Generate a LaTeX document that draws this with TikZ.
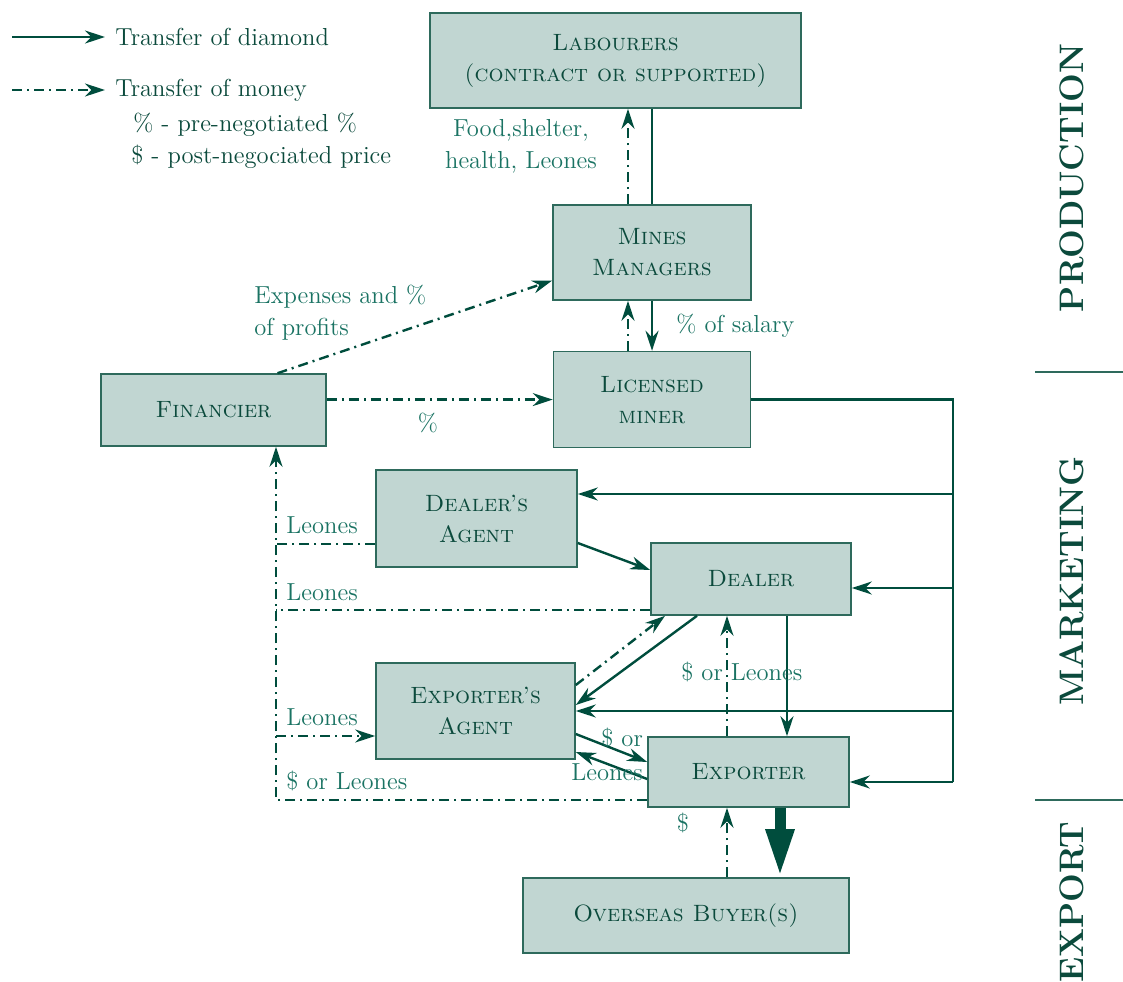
\documentclass[tikz,border=0pt]{standalone}
\usepackage{fontspec}
\usepackage{tikz}
\usetikzlibrary{arrows.meta, positioning}
\definecolor{dgreen}{HTML}{004D3D}
\definecolor{boxfill}{HTML}{C1D6D2}
\definecolor{boxline}{HTML}{2E6A5C}
\definecolor{lblgreen}{HTML}{1A7363}
\definecolor{txtgreen}{HTML}{0B4A3C}

\begin{document}
\begin{tikzpicture}[x=0.5pt, y=-0.5pt,
	actor/.style={draw=boxline, line width=0.8pt, fill=boxfill, text=txtgreen, align=center,
		inner sep=0pt, font=\fontsize{11.8}{15.5}\selectfont\scshape},
	gem/.style={draw=dgreen, line width=1.2pt, -{Stealth[length=10pt,width=6.5pt]}},
	money/.style={gem, dash pattern=on 5pt off 2.5pt on 1pt off 2.5pt},
	lbl/.style={text=lblgreen, font=\fontsize{12.3}{16}\selectfont, align=left, inner sep=0pt},
	legend/.style={lbl, text=txtgreen, anchor=west},
	side/.style={text=txtgreen, font=\fontsize{17}{20}\selectfont\bfseries, rotate=90, inner sep=0pt}]
	\useasboundingbox (0,0) rectangle (1123,981);

	% actors
	\node[actor, minimum width=185.5pt, minimum height=47.5pt] (lab) at (615.5,60.5) {Labourers\\(contract or supported)};
	\node[actor, minimum width=99pt, minimum height=47.5pt] (mines) at (652,252.5) {Mines\\Managers};
	\node[actor, minimum width=98.5pt, minimum height=48pt, below=25pt of mines] (lic) {Licensed\\miner};
	\node[actor, minimum width=112.5pt, minimum height=36pt] (fin) at (213.5,410) {Financier};
	\node[actor, minimum width=100.5pt, minimum height=48.5pt] (dagent) at (476.5,518.5) {Dealer’s\\Agent};
	\node[actor, minimum width=100pt, minimum height=36pt] (dealer) at (751,579) {Dealer};
	\node[actor, minimum width=99.5pt, minimum height=48pt] (eagent) at (475.5,711) {Exporter’s\\Agent};
	\node[actor, minimum width=100.5pt, minimum height=35pt] (exp) at (748.5,772) {Exporter};
	\node[actor, minimum width=163pt, minimum height=37.5pt] (buyer) at (686,915.5) {Overseas Buyer(s)};

	% production
	\coordinate (mu) at ([xshift=-12pt]mines.north);
	\coordinate (lu) at ([xshift=-12pt]lic.north);
	\draw[gem, -] (mines.north) -- (mines.north |- lab.south);
	\draw[money] (mu) -- (mu |- lab.south);
	\node[lbl, align=center] (food) at (521,146) {Food,shelter,\\health, Leones};
	\draw[gem] (mines.south) -- (mines.south |- lic.north);
	\draw[money] (lu) -- (lu |- mines.south);
	\node[lbl, anchor=west] (sal) at (676,326) {\% of salary};
	\draw[money] ([xshift=32pt]fin.north) -- ([yshift=-14pt]mines.west);
	\node[lbl, anchor=west] (exps) at (254,313) {Expenses and \%\\of profits};
	\draw[money] (fin.east |- lic.west) -- (lic.west);
	\node[lbl] (pct) at (428,423) {\%};

	% marketing, diamonds from the licensed miner
	\coordinate (rb) at (953,782);
	\draw[gem, -] (lic.east) -- (lic.east -| rb) -- (rb);
	\draw[gem] (rb |- 0,494) -- (dagent.east |- 0,494);
	\draw[gem] (rb |- 0,588) -- (dealer.east |- 0,588);
	\draw[gem] (rb |- eagent.east) -- (eagent.east);
	\draw[gem] (rb) -- (exp.east |- rb);

	% money back to the financier
	\coordinate (lb) at (276,800);
	\draw[money] (exp.west |- lb) -- (lb) -- (lb |- fin.south);
	\draw[money, -] (dagent.west |- 0,544) -- (lb |- 0,544);
	\draw[money, -] (dealer.west |- 0,610) -- (lb |- 0,610);
	\draw[money] (lb |- 0,736) -- (eagent.west |- 0,736);
	\node[lbl, anchor=west] (l1) at (286,525) {Leones};
	\node[lbl, anchor=west] (l2) at (286,592) {Leones};
	\node[lbl, anchor=west] (l3) at (286,717) {Leones};
	\node[lbl, anchor=west] (l4) at (286,781) {\$ or Leones};

	% between dealers and exporters
	\draw[gem] (dagent.east |- 0,543) -- (dealer.west |- 0,570);
	\draw[gem] (dealer.south -| 697,0) -- (eagent.east |- 0,705);
	\draw[money] (eagent.east |- 0,685) -- (dealer.south -| 665,0);
	\draw[gem] (dealer.south -| 787,0) -- (exp.north -| 787,0);
	\draw[money] (exp.north -| 727,0) -- (dealer.south -| 727,0);
	\node[lbl, anchor=west] (sl) at (681,672) {\$ or Leones};
	\draw[gem] (eagent.east |- 0,734) -- (exp.west |- 0,762);
	\draw[gem] (exp.west |- 0,779) -- (eagent.east |- 0,752);
	\node[lbl, anchor=west] (sor) at (601,738) {\$ or};
	\node[lbl, anchor=west] (leo) at (571,772) {Leones};

	% export
	\draw[dgreen, line width=5.5pt, -{Triangle[length=24pt,width=13pt]}] (exp.south -| 780,0) -- (buyer.north -| 780,0);
	\draw[money] (buyer.north -| 727,0) -- (exp.south -| 727,0);
	\node[lbl] (dol) at (683,823) {\$};

	% legend
	\node[legend] (tdia) at (115,37) {Transfer of diamond};
	\node[legend] (tmon) at (115,90) {Transfer of money};
	\node[legend] (pre) at (133,125) {\% - pre-negotiated \%};
	\node[legend] (post) at (131,157) {\$ - post-negociated price};
	\coordinate (g0) at (12,37);
	\coordinate (m0) at (12,90);
	\draw[gem] (g0) -- ([xshift=-5pt]tdia.west);
	\draw[money] (m0) -- ([xshift=-5pt]tmon.west);

	% stages
	\node[side] (prod) at (1072,178) {PRODUCTION};
	\node[side] (mark) at (1072,581) {MARKETING};
	\node[side] (expo) at (1072,902) {EXPORT};
	\draw[boxline, line width=0.6pt] (1035,372) -- (1123,372);
	\draw[boxline, line width=0.6pt] (1035,800) -- (1123,800);
\end{tikzpicture}
\end{document}
